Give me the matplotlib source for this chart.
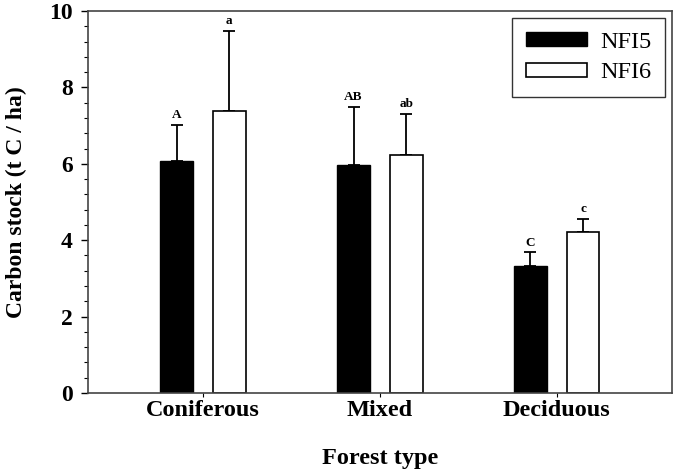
import numpy as np
import matplotlib.pyplot as plt
from matplotlib.ticker import MultipleLocator

# data
forest_types = ['Coniferous', 'Mixed', 'Deciduous']
nfi5_mean = [6.08, 5.98, 3.33]
nfi5_err = [0.94, 1.50, 0.35]
nfi6_mean = [7.37, 6.23, 4.21]
nfi6_err = [2.11, 1.07, 0.35]
nfi5_letters = ['A', 'AB', 'C']
nfi6_letters = ['a', 'ab', 'c']

plt.rcParams['font.family'] = ['Liberation Serif', 'DejaVu Serif']

fig = plt.figure(figsize=(6.8, 4.74), dpi=100)
ax = fig.add_axes([0.1294, 0.1709, 0.8586, 0.8059])

x = np.arange(1, len(forest_types) + 1)
width = 0.184
offset = 0.149

ax.bar(x - offset, nfi5_mean, width, color='black', edgecolor='black',
       linewidth=1.0, label='NFI5', zorder=2)
ax.bar(x + offset, nfi6_mean, width, color='white', edgecolor='black',
       linewidth=1.2, label='NFI6', zorder=2)

# upper error bars only
ax.errorbar(x - offset, nfi5_mean, yerr=[np.zeros(3), nfi5_err], fmt='none',
            ecolor='black', elinewidth=1.3, capsize=4.5, capthick=1.3, zorder=1)
ax.errorbar(x + offset, nfi6_mean, yerr=[np.zeros(3), nfi6_err], fmt='none',
            ecolor='black', elinewidth=1.3, capsize=4.5, capthick=1.3, zorder=1)

for xi, m, e, t in zip(x - offset, nfi5_mean, nfi5_err, nfi5_letters):
    ax.text(xi, m + e + 0.1, t, ha='center', va='bottom', fontsize=9.5, fontweight='bold')
for xi, m, e, t in zip(x + offset, nfi6_mean, nfi6_err, nfi6_letters):
    ax.text(xi, m + e + 0.1, t, ha='center', va='bottom', fontsize=9.5, fontweight='bold')

ax.set_xlim(0.35, 3.65)
ax.set_ylim(0, 10)
ax.set_xticks(x)
ax.set_xticklabels(forest_types, fontsize=17.5, fontweight='bold')
ax.yaxis.set_major_locator(MultipleLocator(2))
ax.yaxis.set_minor_locator(MultipleLocator(0.4))
ax.tick_params(axis='y', which='major', length=5, labelsize=17, width=1, pad=6)
ax.tick_params(axis='y', which='minor', length=3, width=0.8)
ax.tick_params(axis='x', length=3, width=0.8, pad=2)
for lbl in ax.get_yticklabels():
    lbl.set_fontweight('bold')

ax.set_ylabel('Carbon stock (t C / ha)', fontsize=17, fontweight='bold')
ax.yaxis.set_label_coords(-0.104, 0.5)
ax.set_xlabel('Forest type', fontsize=17.5, fontweight='bold')
ax.xaxis.set_label_coords(0.5, -0.145)

for sp in ax.spines.values():
    sp.set_color('#444444')
    sp.set_linewidth(1.2)

leg = ax.legend(loc='upper right', fontsize=17.5, frameon=True, fancybox=False,
                edgecolor='black', handlelength=2.5, handleheight=0.5,
                borderaxespad=0.3, borderpad=0.55, labelspacing=0.4,
                handletextpad=0.55)
leg.get_frame().set_linewidth(1.0)

fig.savefig('out.png', dpi=100)
